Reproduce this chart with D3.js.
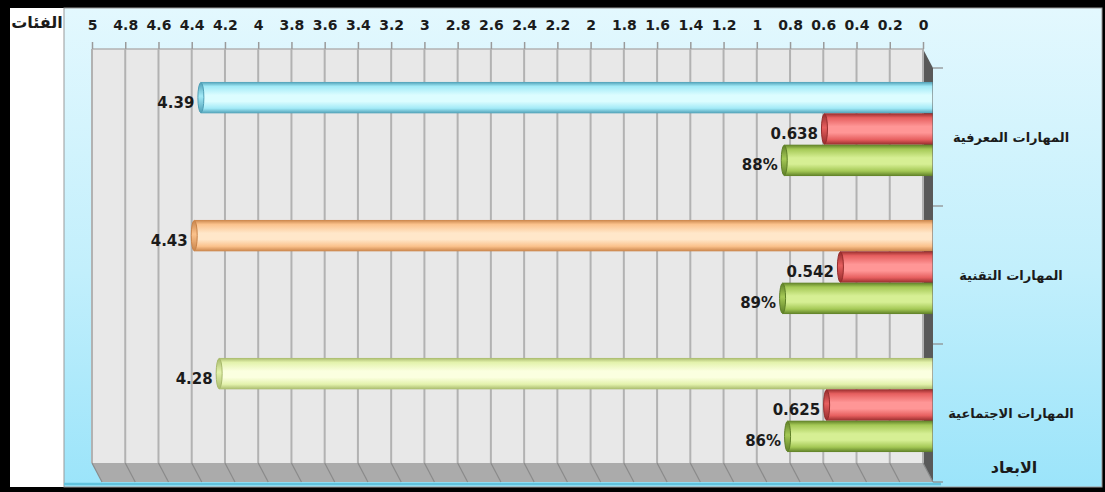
<!DOCTYPE html>
<html>
<head>
<meta charset="utf-8">
<script src="https://cdn.jsdelivr.net/npm/d3@7"></script>
<style>
  html, body { margin: 0; padding: 0; background: #000; }
  svg { display: block; }
  text { font-family: "DejaVu Sans", "Liberation Sans", sans-serif; fill: #1b1b1b; }
</style>
</head>
<body>
<svg id="chart" width="1105" height="492"></svg>
<script>
// ---- data ----
const categories = ["المهارات المعرفية", "المهارات التقنية", "المهارات الاجتماعية"];
const meanValues = [4.39, 4.43, 4.28];
const sdValues = [0.638, 0.542, 0.625];
const percentValues = [0.88, 0.89, 0.86];
const percentLabels = ["88%", "89%", "86%"];
const tickValues = [0, 0.2, 0.4, 0.6, 0.8, 1, 1.2, 1.4, 1.6, 1.8, 2, 2.2, 2.4, 2.6, 2.8, 3, 3.2, 3.4, 3.6, 3.8, 4, 4.2, 4.4, 4.6, 4.8, 5];
const tickLabels = ["0", "0.2", "0.4", "0.6", "0.8", "1", "1.2", "1.4", "1.6", "1.8", "2", "2.2", "2.4", "2.6", "2.8", "3", "3.2", "3.4", "3.6", "3.8", "4", "4.2", "4.4", "4.6", "4.8", "5"];
const valueAxisTitle = "الفئات";
const categoryAxisTitle = "الابعاد";

// colour palettes for the cylinders: [edge, base, highlight]
const meanPalettes = [
  ["#4f9fb6", "#a2eaf7", "#dcfdff"],
  ["#c9844a", "#fbc28c", "#ffe7ca"],
  ["#a8ba6c", "#e3f2ac", "#fbffe0"]
];
const sdPalette = ["#962c2c", "#e65f5f", "#ff9696"];
const pctPalette = ["#5e7f27", "#a5c956", "#d6ef94"];

// ---- layout ----
const W = 1105, H = 492;
const svg = d3.select("#chart");
const defs = svg.append("defs");

const wall = { left: 92, right: 923, top: 49, bottom: 463 };
const depth = { dx: 10, dy: 19 };

const xBack = d3.scaleLinear().domain([0, 5]).range([wall.right, wall.left]);
const xBar = d3.scaleLinear().domain([0, 5]).range([930.5, 99.5]);
const yFront = d3.scaleBand().domain(categories).range([wall.top + depth.dy, wall.bottom + depth.dy]);
const yGroup = d3.scaleBand().domain(categories).range([60, 474]);
const seriesKeys = ["mean", "sd", "pct"];
const yInner = d3.scaleBand().domain(seriesKeys).range([0, yGroup.bandwidth()]).paddingInner(0).paddingOuter(0.7);

// ---- background frame ----
const bg = defs.append("linearGradient").attr("id", "bgGrad").attr("x1", 0).attr("y1", 0).attr("x2", 0).attr("y2", 1);
bg.append("stop").attr("offset", "0%").attr("stop-color", "#e3f8fe");
bg.append("stop").attr("offset", "55%").attr("stop-color", "#c2effc");
bg.append("stop").attr("offset", "100%").attr("stop-color", "#9be4fa");

svg.append("rect").attr("width", W).attr("height", H).attr("fill", "#000");
svg.append("rect").attr("x", 10).attr("y", 8).attr("width", 55).attr("height", 479).attr("fill", "#fff");
svg.append("rect").attr("x", 64).attr("y", 8).attr("width", 1038).attr("height", 479)
  .attr("fill", "url(#bgGrad)").attr("stroke", "#9a9a9a").attr("stroke-width", 1);

// ---- 3D walls ----
svg.append("rect")
  .attr("x", wall.left).attr("y", wall.top)
  .attr("width", wall.right - wall.left).attr("height", wall.bottom - wall.top)
  .attr("fill", "#e8e8e8");

// floor
svg.append("polygon")
  .attr("points", [
    [wall.left, wall.bottom], [wall.right, wall.bottom],
    [wall.right + depth.dx, wall.bottom + depth.dy], [wall.left + depth.dx, wall.bottom + depth.dy]
  ].map(p => p.join(",")).join(" "))
  .attr("fill", "#ababab");

// blue rim under the floor
svg.append("line")
  .attr("x1", 64).attr("x2", wall.right + depth.dx + 8)
  .attr("y1", wall.bottom + depth.dy + 2).attr("y2", wall.bottom + depth.dy + 2)
  .attr("stroke", "#62c3de").attr("stroke-width", 2.5);

// side wall at the zero end
svg.append("polygon")
  .attr("points", [
    [wall.right, wall.top], [wall.right + depth.dx, wall.top + depth.dy],
    [wall.right + depth.dx, wall.bottom + depth.dy], [wall.right, wall.bottom]
  ].map(p => p.join(",")).join(" "))
  .attr("fill", "#595959");

// gridlines on back wall and their continuation across the floor
const grid = svg.append("g");
grid.selectAll("line.v").data(tickValues).join("line")
  .attr("class", "v")
  .attr("x1", d => xBack(d)).attr("x2", d => xBack(d))
  .attr("y1", wall.top).attr("y2", wall.bottom)
  .attr("stroke", "#b2b2b2").attr("stroke-width", 2);
grid.selectAll("line.f").data(tickValues.slice(0, -1)).join("line")
  .attr("class", "f")
  .attr("x1", d => xBack(d)).attr("x2", d => xBack(d) + depth.dx)
  .attr("y1", wall.bottom).attr("y2", wall.bottom + depth.dy)
  .attr("stroke", "#8a8a8a").attr("stroke-width", 1.2);
grid.append("line")
  .attr("x1", wall.left).attr("x2", wall.right)
  .attr("y1", wall.top).attr("y2", wall.top)
  .attr("stroke", "#b2b2b2").attr("stroke-width", 1.5);
grid.append("line")
  .attr("x1", wall.left).attr("x2", wall.left + depth.dx)
  .attr("y1", wall.bottom).attr("y2", wall.bottom + depth.dy)
  .attr("stroke", "#8a8a8a").attr("stroke-width", 1.2);

// value axis along the top
const axis = d3.axisTop(xBack)
  .tickValues(tickValues)
  .tickFormat((d, i) => tickLabels[i])
  .tickSize(7)
  .tickPadding(12.5);
const axisG = svg.append("g").attr("transform", `translate(0,${wall.top})`).call(axis);
axisG.select(".domain").remove();
axisG.selectAll(".tick line").attr("stroke", "#9a9a9a").attr("stroke-width", 1.5);
axisG.selectAll(".tick text")
  .attr("font-family", "DejaVu Sans, sans-serif")
  .attr("font-weight", "bold").attr("font-size", 14).attr("fill", "#1b1b1b");

// category axis ticks on the right edge
const catTicks = categories.map(c => yFront(c)).concat([yFront.range()[1]]);
svg.append("g").selectAll("line").data(catTicks).join("line")
  .attr("x1", wall.right + depth.dx).attr("x2", wall.right + depth.dx + 10)
  .attr("y1", d => d).attr("y2", d => d)
  .attr("stroke", "#8a8a8a").attr("stroke-width", 1.2);

// ---- cylinder gradients ----
function cylGradient(id, pal) {
  const g = defs.append("linearGradient").attr("id", id)
    .attr("x1", 0).attr("y1", 0).attr("x2", 0).attr("y2", 1);
  [[0, pal[0]], [0.14, pal[1]], [0.42, pal[2]], [0.62, pal[2]], [0.84, pal[1]], [1, pal[0]]]
    .forEach(([o, c]) => g.append("stop").attr("offset", o).attr("stop-color", c));
  const cap = defs.append("linearGradient").attr("id", id + "Cap")
    .attr("x1", 0).attr("y1", 0).attr("x2", 0).attr("y2", 1);
  [[0, pal[0]], [0.45, pal[1]], [1, pal[0]]]
    .forEach(([o, c]) => cap.append("stop").attr("offset", o).attr("stop-color", c));
}
meanPalettes.forEach((p, i) => cylGradient("mean" + i, p));
cylGradient("sd", sdPalette);
cylGradient("pct", pctPalette);

// ---- bars ----
const rows = [];
categories.forEach((c, i) => {
  rows.push({ cat: c, key: "mean", value: meanValues[i], label: d3.format(".2f")(meanValues[i]), grad: "mean" + i, edge: meanPalettes[i][0] });
  rows.push({ cat: c, key: "sd", value: sdValues[i], label: d3.format(".3f")(sdValues[i]), grad: "sd", edge: sdPalette[0] });
  rows.push({ cat: c, key: "pct", value: percentValues[i], label: percentLabels[i], grad: "pct", edge: pctPalette[0] });
});

const barH = yInner.bandwidth();
const bars = svg.append("g").selectAll("g").data(rows).join("g")
  .attr("transform", d => `translate(0,${yGroup(d.cat) + yInner(d.key)})`);

bars.append("rect")
  .attr("x", d => xBar(d.value))
  .attr("y", 0)
  .attr("width", d => xBar(0) + 2 - xBar(d.value))
  .attr("height", barH)
  .attr("fill", d => `url(#${d.grad})`);

bars.append("ellipse")
  .attr("cx", d => xBar(d.value))
  .attr("cy", barH / 2)
  .attr("rx", 3)
  .attr("ry", barH / 2 - 0.5)
  .attr("fill", d => `url(#${d.grad}Cap)`)
  .attr("stroke", d => d.edge)
  .attr("stroke-width", 1);

bars.append("text")
  .attr("x", d => xBar(d.value) - 6.5)
  .attr("y", barH / 2 + 5)
  .attr("dominant-baseline", "central")
  .attr("text-anchor", "end")
  .attr("font-weight", "bold")
  .attr("font-size", 15)
  .text(d => d.label);

// ---- category labels ----
svg.append("g").selectAll("text").data(categories).join("text")
  .attr("x", 1011)
  .attr("y", d => yFront(d) + yFront.bandwidth() / 2)
  .attr("text-anchor", "middle")
  .attr("dominant-baseline", "central")
  .attr("font-weight", "bold")
  .attr("font-size", 13)
  .attr("direction", "rtl")
  .text(d => d);

// ---- axis titles ----
svg.append("text")
  .attr("x", 37).attr("y", 22)
  .attr("text-anchor", "middle").attr("dominant-baseline", "central")
  .attr("font-weight", "bold").attr("font-size", 16).attr("direction", "rtl")
  .text(valueAxisTitle);

svg.append("text")
  .attr("x", 1014).attr("y", 467)
  .attr("text-anchor", "middle").attr("dominant-baseline", "central")
  .attr("font-weight", "bold").attr("font-size", 16).attr("direction", "rtl")
  .text(categoryAxisTitle);
</script>
</body>
</html>
